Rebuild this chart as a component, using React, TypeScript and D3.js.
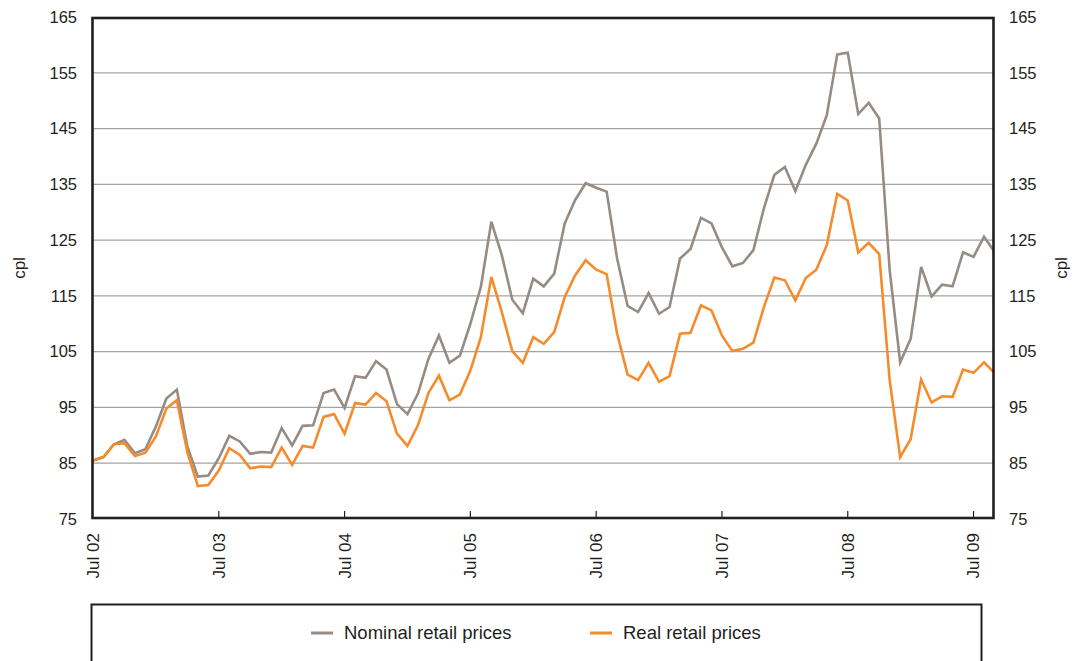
import React from 'react';
import * as d3 from 'd3';

// Monthly, Jul 2002 – Sep 2009
const months = d3.timeMonth.range(new Date(2002, 6, 1), new Date(2009, 9, 1));

const nominal = [
  85.5, 86.1, 88.4, 89.2, 86.8, 87.5, 91.6, 96.6, 98.2, 88.0,
  82.6, 82.8, 85.9, 89.9, 88.9, 86.7, 87.0, 86.9, 91.3, 88.2,
  91.7, 91.8, 97.6, 98.2, 94.9,
  100.6, 100.3, 103.3, 101.8, 95.6, 93.8, 97.5, 103.7, 107.9, 103.0,
  104.3, 110.0, 116.6, 128.3, 122.3, 114.3, 111.9, 118.1, 116.7, 119.0,
  128.0, 132.2, 135.2, 134.4,
  133.7, 121.7, 113.2, 112.1, 115.5, 111.8, 113.0, 121.7, 123.4, 129.0,
  128.0, 123.7, 120.3, 120.9, 123.2, 130.7, 136.7, 138.1, 133.8, 138.5,
  142.3, 147.4, 158.3, 158.6, 147.6, 149.6, 146.8, 119.6, 103.1, 107.3,
  120.2, 114.9, 117.0, 116.7, 122.8, 122.0, 125.6, 122.9,
];

const real = [
  85.5, 86.1, 88.4, 88.6, 86.3, 86.9, 89.8, 94.8, 96.3, 87.0,
  80.9, 81.1, 83.7, 87.7, 86.5, 84.1, 84.4, 84.3, 87.8, 84.7,
  88.1, 87.8, 93.3, 93.8, 90.3,
  95.8, 95.5, 97.6, 96.1, 90.3, 88.1, 91.8, 97.6, 100.7, 96.3,
  97.3, 101.6, 107.6, 118.4, 112.1, 105.1, 103.0, 107.6, 106.4, 108.5,
  114.8, 118.7, 121.4, 119.7,
  118.9, 108.2, 100.9, 99.9, 103.0, 99.6, 100.6, 108.2, 108.4, 113.3,
  112.4, 107.9, 105.1, 105.5, 106.6, 113.0, 118.3, 117.8, 114.2, 118.2,
  119.7, 124.1, 133.3, 132.1, 122.8, 124.5, 122.5, 99.9, 86.1, 89.3,
  100.0, 95.9, 97.0, 96.9, 101.8, 101.2, 103.1, 101.2,
];

const yTicks = [75, 85, 95, 105, 115, 125, 135, 145, 155, 165];
const xTickLabels = ['Jul 02', 'Jul 03', 'Jul 04', 'Jul 05', 'Jul 06', 'Jul 07', 'Jul 08', 'Jul 09'];

const seriesNames = ['Nominal retail prices', 'Real retail prices'];
const seriesColors = ['#968c84', '#f68b2c'];

const W = 1076;
const H = 661;
const left = 92.5;
const right = 993.5;
const top = 18;
const bottom = 518;
const ink = '#231f20';
const font = '"Liberation Sans", Arial, Helvetica, sans-serif';

const App: React.FC = () => {
  const x = d3.scaleLinear().domain([0, months.length - 1]).range([93, 994.5]);
  const y = d3.scaleLinear().domain([75, 165]).range([519, 17]);

  const line = d3.line<number>()
    .x((_, i) => x(i))
    .y(d => y(d));

  const series = [nominal, real];

  return (
    <svg width={W} height={H} style={{ position: 'absolute', left: 0, top: 0 }} fontFamily={font}>
      <rect width={W} height={H} fill="#fff" />

      {/* gridlines */}
      {yTicks.filter(t => t > 75 && t < 165).map(t => (
        <line key={t} x1={left} x2={right} y1={y(t)} y2={y(t)} stroke="#a3a3a3" strokeWidth={1.2} />
      ))}

      {/* series */}
      <defs>
        <clipPath id="plot">
          <rect x={left} y={top} width={right - left} height={bottom - top} />
        </clipPath>
      </defs>
      <g clipPath="url(#plot)">
        {series.map((s, k) => (
          <path key={k} d={line(s) || ''} fill="none" stroke={seriesColors[k]} strokeWidth={2.6} strokeLinejoin="miter" />
        ))}
      </g>

      {/* frame */}
      <rect x={left} y={top} width={right - left} height={bottom - top} fill="none" stroke={ink} strokeWidth={2.6} />

      {/* x ticks & labels */}
      {xTickLabels.map((lab, i) => {
        const xi = x(i * 12);
        return (
          <g key={lab}>
            {i > 0 && <line x1={xi} x2={xi} y1={bottom} y2={bottom - 7} stroke={ink} strokeWidth={1.2} />}
            <text
              transform={`translate(${xi},533) rotate(-90)`}
              textAnchor="end"
              dy="0.35em"
              fontSize={17}
              fill={ink}
            >{lab}</text>
          </g>
        );
      })}

      {/* y labels both sides */}
      {yTicks.map(t => (
        <g key={t}>
          <text x={77} y={y(t)} dy="0.35em" textAnchor="end" fontSize={16.5} fill={ink}>{t}</text>
          <text x={1009} y={y(t)} dy="0.35em" textAnchor="start" fontSize={16.5} fill={ink}>{t}</text>
        </g>
      ))}

      <text transform={`translate(19,${(top + bottom) / 2}) rotate(-90)`} textAnchor="middle" dy="0.35em" fontSize={17} fill={ink}>cpl</text>
      <text transform={`translate(1061,${(top + bottom) / 2}) rotate(-90)`} textAnchor="middle" dy="0.35em" fontSize={17} fill={ink}>cpl</text>

      {/* legend */}
      <rect x={91.5} y={604.5} width={890} height={80} fill="none" stroke={ink} strokeWidth={2} />
      {seriesNames.map((name, k) => {
        const lx = k === 0 ? 311 : 590;
        return (
          <g key={name}>
            <line x1={lx} x2={lx + 22} y1={633} y2={633} stroke={seriesColors[k]} strokeWidth={3} />
            <text x={lx + 33} y={633} dy="0.35em" fontSize={18.5} fill={ink}>{name}</text>
          </g>
        );
      })}
    </svg>
  );
};

export default App;
